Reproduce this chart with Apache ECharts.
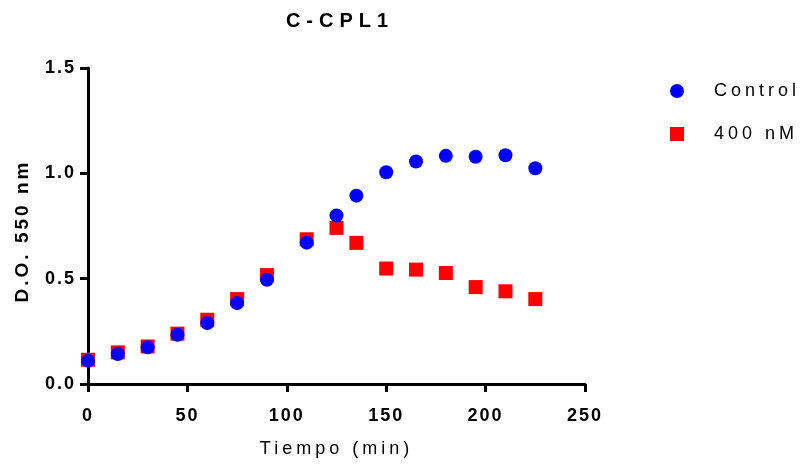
<!DOCTYPE html>
<html>
<head>
<meta charset="utf-8">
<script src="https://cdn.jsdelivr.net/npm/echarts@6/dist/echarts.min.js"></script>
<style>html,body{margin:0;padding:0;background:#fff}#c{width:802px;height:466px}</style>
</head>
<body>
<div id="c"></div>
<script>
// Data
const times = [0, 15, 30, 45, 60, 75, 90, 110, 125, 135, 150, 165, 180, 195, 210, 225];
const control = [0.11, 0.142, 0.174, 0.234, 0.289, 0.384, 0.495, 0.671, 0.80, 0.894, 1.005, 1.056, 1.083, 1.079, 1.086, 1.024];
const nm400 = [0.115, 0.15, 0.178, 0.239, 0.305, 0.403, 0.517, 0.687, 0.741, 0.670, 0.548, 0.543, 0.527, 0.460, 0.440, 0.403];
const seriesNames = ['Control', '400 nM'];
const xTicks = [0, 50, 100, 150, 200, 250];
const yTicks = [0, 0.5, 1.0, 1.5];

// letter spacing for the spaced-out text of the reference (by weight + font size)
(function () {
  const P = CanvasRenderingContext2D.prototype;
  const sp = { 'b20': '6px', 'b19': '3px', 'b18': '2px', '18': '4px' };
  function apply(ctx) {
    const f = ctx.font;
    const m = /(\d+(?:\.\d+)?)px/.exec(f);
    const key = m ? ((/bold|700/.test(f) ? 'b' : '') + m[1]) : '';
    const v = sp[key];
    try { ctx.letterSpacing = v || '0px'; } catch (e) {}
  }
  const ft = P.fillText, mt = P.measureText;
  P.fillText = function () { apply(this); return ft.apply(this, arguments); };
  P.measureText = function () { apply(this); return mt.apply(this, arguments); };
})();

const FONT = '"Liberation Sans", Arial, sans-serif';
const zip = (xs, ys) => xs.map((x, i) => [x, ys[i]]);

const chart = echarts.init(document.getElementById('c'), null, { renderer: 'canvas' });
chart.setOption({
  animation: false,
  backgroundColor: '#fff',
  title: {
    text: 'C-CPL1',
    left: 335,
    top: 3,
    textAlign: 'center',
    textStyle: { fontFamily: FONT, fontSize: 20, fontWeight: 'bold', color: '#000' }
  },
  legend: {
    data: seriesNames,
    orient: 'vertical',
    left: 665,
    top: 75,
    itemWidth: 14,
    itemHeight: 14,
    itemGap: 21,
    textStyle: { fontFamily: FONT, fontSize: 18, color: '#000', lineHeight: 20, padding: [0, 0, 0, 25] }
  },
  grid: { left: 88, right: 217, top: 68, bottom: 82, containLabel: false },
  xAxis: {
    type: 'value',
    min: xTicks[0],
    max: xTicks[xTicks.length - 1],
    interval: xTicks[1] - xTicks[0],
    name: 'Tiempo (min)',
    nameLocation: 'middle',
    nameGap: 54,
    nameTextStyle: { fontFamily: FONT, fontSize: 18, color: '#000' },
    axisLine: { lineStyle: { color: '#000', width: 3 } },
    axisTick: { length: 8, lineStyle: { color: '#000', width: 3 } },
    axisLabel: { margin: 22, fontFamily: FONT, fontSize: 18, fontWeight: 'bold', color: '#000' },
    splitLine: { show: false }
  },
  yAxis: {
    type: 'value',
    min: yTicks[0],
    max: yTicks[yTicks.length - 1],
    interval: yTicks[1] - yTicks[0],
    name: 'D.O. 550 nm',
    nameLocation: 'middle',
    nameRotate: 90,
    nameGap: 53,
    nameTextStyle: { fontFamily: FONT, fontSize: 19, fontWeight: 'bold', color: '#000', padding: [0, 10, 0, 0] },
    axisLine: { show: true, lineStyle: { color: '#000', width: 3 } },
    axisTick: { show: true, length: 8, lineStyle: { color: '#000', width: 3 } },
    axisLabel: { margin: 12, fontFamily: FONT, fontSize: 18, fontWeight: 'bold', color: '#000',
      formatter: v => v.toFixed(1) },
    splitLine: { show: false }
  },
  series: [
    {
      name: seriesNames[1],
      type: 'scatter',
      symbol: 'rect',
      symbolSize: 14,
      itemStyle: { color: '#FF0000', opacity: 1 },
      data: zip(times, nm400)
    },
    {
      name: seriesNames[0],
      type: 'scatter',
      symbol: 'circle',
      symbolSize: 14,
      itemStyle: { color: '#0000FF', opacity: 1 },
      data: zip(times, control)
    }
  ]
});
</script>
</body>
</html>
